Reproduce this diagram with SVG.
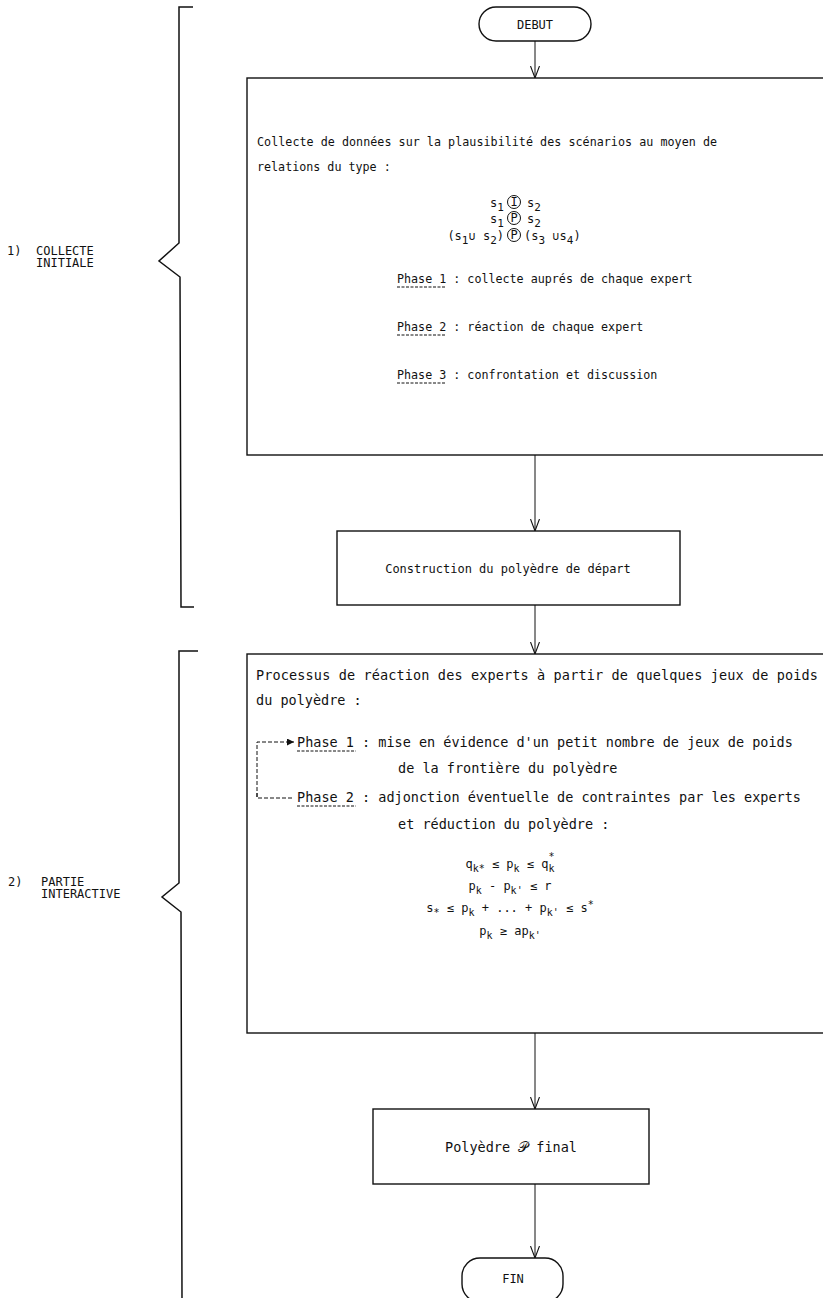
<svg xmlns="http://www.w3.org/2000/svg" width="823" height="1298" viewBox="0 0 823 1298">
<defs>
<style>
.t{font-family:"DejaVu Sans Mono","Liberation Mono",monospace;font-size:11.7px;fill:#111}
.t3{font-family:"DejaVu Sans Mono","Liberation Mono",monospace;font-size:13.5px;fill:#111}
.m{font-family:"DejaVu Sans Mono","Liberation Mono",monospace;font-size:12px;fill:#111}
.lbl{font-family:"DejaVu Sans Mono","Liberation Mono",monospace;font-size:12px;fill:#111}
.box{fill:#fff;stroke:#111;stroke-width:1.4}
.br{fill:none;stroke:#111;stroke-width:1.5}
.c{fill:none;stroke:#111;stroke-width:1}
.ul{stroke:#111;stroke-width:1;stroke-dasharray:3 1.5}
.dl{fill:none;stroke:#111;stroke-width:1;stroke-dasharray:4 2}
.ci{fill:none;stroke:#111;stroke-width:1}
</style>
<marker id="v" viewBox="0 0 12 10" refX="12" refY="5" markerWidth="12" markerHeight="10" markerUnits="userSpaceOnUse" orient="auto">
<path d="M0,0.5 L12,5 L0,9.5" fill="none" stroke="#111" stroke-width="1.1"/>
</marker>
<marker id="tri" viewBox="0 0 8 8" refX="8" refY="4" markerWidth="7" markerHeight="7" markerUnits="userSpaceOnUse" orient="auto">
<path d="M0,0 L8,4 L0,8 Z" fill="#111"/>
</marker>
</defs>

<g id="brace1">
<path class="br" d="M193,7 L179,7 L179,243 L159,261 L180,277 L181,607 L194,607"/>
<text class="lbl" x="7" y="255">1)</text>
<text class="lbl" x="36" y="255">COLLECTE</text>
<text class="lbl" x="36" y="267">INITIALE</text>
</g>

<g id="brace2">
<path class="br" d="M198,651 L179,651 L179,883 L162,897 L181,912 L182,1298"/>
<text class="lbl" x="8" y="886">2)</text>
<text class="lbl" x="41" y="886">PARTIE</text>
<text class="lbl" x="41" y="898">INTERACTIVE</text>
</g>

<g id="debut">
<rect class="box" x="479" y="7" width="112" height="34" rx="17"/>
<text class="m" x="535" y="29" text-anchor="middle" font-size="11">DEBUT</text>
</g>

<g id="collecte">
<rect class="box" x="247" y="78" width="585" height="377"/>
<text class="t" x="257" y="146" textLength="460">Collecte de données sur la plausibilité des scénarios au moyen de</text>
<text class="t" x="257" y="171">relations du type :</text>
<text class="m" x="490" y="207">s<tspan dy="4" font-size="11">1</tspan></text>
<circle class="ci" cx="514" cy="202" r="6.5"/>
<text class="m" x="514" y="206" text-anchor="middle" font-size="10">I</text>
<text class="m" x="527" y="207">s<tspan dy="4" font-size="11">2</tspan></text>
<text class="m" x="490" y="223">s<tspan dy="4" font-size="11">1</tspan></text>
<circle class="ci" cx="514" cy="218" r="6.5"/>
<text class="m" x="514" y="222" text-anchor="middle" font-size="10">P</text>
<text class="m" x="527" y="223">s<tspan dy="4" font-size="11">2</tspan></text>
<text class="m" x="504" y="240" text-anchor="end">(s<tspan dy="4" font-size="11">1</tspan><tspan dy="-4">∪ s</tspan><tspan dy="4" font-size="11">2</tspan><tspan dy="-4">)</tspan></text>
<circle class="ci" cx="514" cy="235" r="6.5"/>
<text class="m" x="514" y="239" text-anchor="middle" font-size="10">P</text>
<text class="m" x="524" y="240">(s<tspan dy="4" font-size="11">3</tspan><tspan dy="-4"> ∪s</tspan><tspan dy="4" font-size="11">4</tspan><tspan dy="-4">)</tspan></text>
<text class="t" x="397" y="283">Phase 1 : collecte auprés de chaque expert</text>
<line class="ul" x1="397" y1="287" x2="446" y2="287"/>
<text class="t" x="397" y="331">Phase 2 : réaction de chaque expert</text>
<line class="ul" x1="397" y1="335" x2="446" y2="335"/>
<text class="t" x="397" y="379">Phase 3 : confrontation et discussion</text>
<line class="ul" x1="397" y1="383" x2="446" y2="383"/>
</g>

<g id="construction">
<rect class="box" x="337" y="531" width="343" height="74"/>
<text class="m" x="508" y="573" text-anchor="middle">Construction du polyèdre de départ</text>
</g>

<g id="interactif">
<rect class="box" x="247" y="654" width="585" height="379"/>
<text class="t3" x="256" y="680" textLength="562">Processus de réaction des experts à partir de quelques jeux de poids</text>
<text class="t3" x="256" y="705">du polyèdre :</text>
<text class="t3" x="297" y="747">Phase 1 : mise en évidence d'un petit nombre de jeux de poids</text>
<line class="ul" x1="297" y1="751" x2="356" y2="751"/>
<text class="t3" x="398" y="773">de la frontière du polyèdre</text>
<text class="t3" x="297" y="802">Phase 2 : adjonction éventuelle de contraintes par les experts</text>
<line class="ul" x1="297" y1="806" x2="356" y2="806"/>
<text class="t3" x="398" y="829">et réduction du polyèdre :</text>
<text class="m" x="510" y="868" text-anchor="middle">q<tspan dy="4" font-size="10">k*</tspan><tspan dy="-4"> ≤ p</tspan><tspan dy="4" font-size="10">k</tspan><tspan dy="-4"> ≤ q</tspan><tspan dy="4" font-size="10">k</tspan><tspan dx="-6" dy="-12" font-size="10">*</tspan></text>
<text class="m" x="510" y="890" text-anchor="middle">p<tspan dy="4" font-size="10">k</tspan><tspan dy="-4"> - p</tspan><tspan dy="4" font-size="10">k'</tspan><tspan dy="-4"> ≤ r</tspan></text>
<text class="m" x="510" y="912" text-anchor="middle">s<tspan dy="4" font-size="10">*</tspan><tspan dy="-4"> ≤ p</tspan><tspan dy="4" font-size="10">k</tspan><tspan dy="-4"> + ... + p</tspan><tspan dy="4" font-size="10">k'</tspan><tspan dy="-4"> ≤ s</tspan><tspan dy="-4" font-size="10">*</tspan></text>
<text class="m" x="510" y="935" text-anchor="middle">p<tspan dy="4" font-size="10">k</tspan><tspan dy="-4"> ≥ ap</tspan><tspan dy="4" font-size="10">k'</tspan></text>
</g>

<g id="final">
<rect class="box" x="373" y="1109" width="276" height="75"/>
<text class="t3" x="511" y="1152" text-anchor="middle">Polyèdre 𝒫 final</text>
</g>

<g id="fin">
<rect class="box" x="462" y="1258" width="101" height="44" rx="18"/>
<text class="m" x="513" y="1283" text-anchor="middle" font-size="11">FIN</text>
</g>

<g id="connectors">
<path class="c" d="M535,41 L535,78" marker-end="url(#v)"/>
<path class="c" d="M535,455 L535,531" marker-end="url(#v)"/>
<path class="c" d="M535,605 L535,654" marker-end="url(#v)"/>
<path class="c" d="M535,1033 L535,1109" marker-end="url(#v)"/>
<path class="c" d="M535,1184 L535,1258" marker-end="url(#v)"/>
<path class="dl" d="M257,797 L257,742 L294,742" marker-end="url(#tri)"/>
<path class="dl" d="M257,793 L257,798 L294,798"/>
</g>
</svg>
